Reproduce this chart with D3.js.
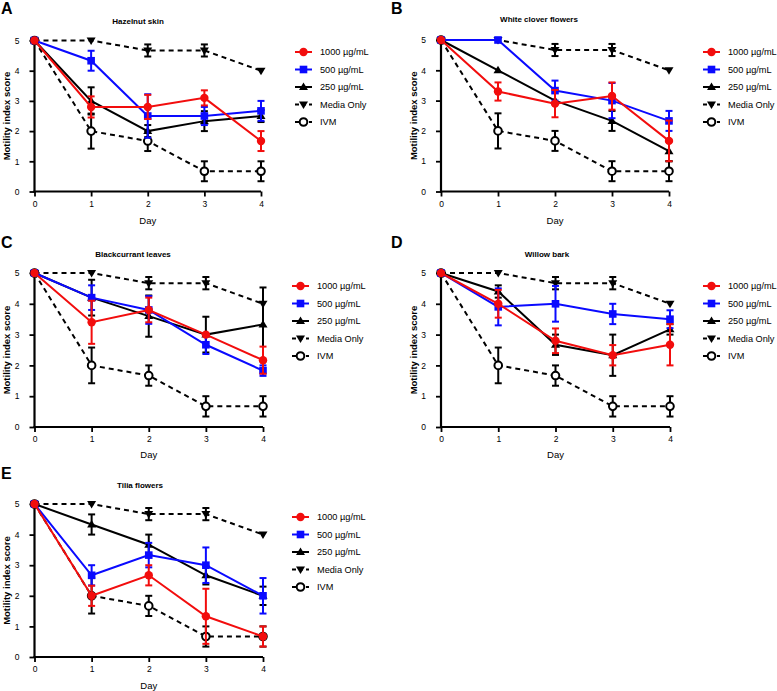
<!DOCTYPE html>
<html><head><meta charset="utf-8">
<script src="https://cdn.jsdelivr.net/npm/d3@7"></script>
<style>body{margin:0;background:#fff}svg{display:block}text{font-family:"Liberation Sans",Arial,sans-serif}</style>
</head><body>
<script>
const days = [0, 1, 2, 3, 4];
const yTicks = [0, 1, 2, 3, 4, 5];
const seriesNames = ["1000 µg/mL", "500 µg/mL", "250 µg/mL", "Media Only", "IVM"];
const panelLetters = ["A", "B", "C", "D", "E"];
const panelTitles = ["Hazelnut skin", "White clover flowers", "Blackcurrant leaves", "Willow bark", "Tilia flowers"];

// shared controls
const mediaMean = [5, 5, 4.67, 4.67, 4];
const mediaErr  = [0, 0, 0.2, 0.2, 0];
const ivmMean   = [5, 2, 1.67, 0.67, 0.67];
const ivmErr    = [0, 0.58, 0.33, 0.33, 0.33];

// A Hazelnut skin
const a1000 = [5, 2.8, 2.8, 3.1, 1.67],  a1000e = [0, 0.35, 0.4, 0.25, 0.33];
const a500  = [5, 4.33, 2.5, 2.5, 2.67], a500e  = [0, 0.33, 0.72, 0.3, 0.33];
const a250  = [5, 3, 2, 2.33, 2.5],      a250e  = [0, 0.45, 0.2, 0.33, 0.2];
// B White clover flowers
const b1000 = [5, 3.3, 2.9, 3.15, 1.67], b1000e = [0, 0.3, 0.45, 0.45, 0.67];
const b500  = [5, 5, 3.33, 3, 2.33],     b500e  = [0, 0, 0.33, 0.58, 0.33];
const b250  = [5, 4, 3, 2.33, 1.33],     b250e  = [0, 0, 0, 0.33, 0.33];
// C Blackcurrant leaves
const c1000 = [5, 3.4, 3.8, 3, 2.17],    c1000e = [0, 0.7, 0.4, 0, 0.44];
const c500  = [5, 4.2, 3.8, 2.67, 1.83], c500e  = [0, 0.4, 0.45, 0.3, 0.17];
const c250  = [5, 4.2, 3.6, 3, 3.33],    c250e  = [0, 0.58, 0.67, 0.58, 1.2];
// D Willow bark
const d1000 = [5, 4, 2.8, 2.33, 2.67],   d1000e = [0, 0.45, 0.4, 0.33, 0.67];
const d500  = [5, 3.9, 4, 3.67, 3.5],    d500e  = [0, 0.6, 0.58, 0.33, 0.29];
const d250  = [5, 4.4, 2.67, 2.33, 3.17],d250e  = [0, 0.2, 0.33, 0.67, 0.17];
// E Tilia flowers
const e1000 = [5, 2, 2.67, 1.33, 0.67],  e1000e = [0, 0.33, 0.33, 0.9, 0.33];
const e500  = [5, 2.67, 3.33, 3, 2],     e500e  = [0, 0.33, 0.4, 0.58, 0.58];
const e250  = [5, 4.33, 3.67, 2.67, 2],  e250e  = [0, 0.33, 0.33, 0.3, 0.3];

const panelData = [
  [[a1000,a1000e],[a500,a500e],[a250,a250e]],
  [[b1000,b1000e],[b500,b500e],[b250,b250e]],
  [[c1000,c1000e],[c500,c500e],[c250,c250e]],
  [[d1000,d1000e],[d500,d500e],[d250,d250e]],
  [[e1000,e1000e],[e500,e500e],[e250,e250e]]
];

// layout (positions only)
const layout = [
  {x0:34.5, x1:261, yT:40.5, yB:191.5, tx:138, ty:24, lx:1, ly:14, legX:295, legY:52, ylx:7,   dayY:224},
  {x0:441,  x1:669, yT:40,   yB:191.5, tx:539, ty:22, lx:391, ly:14, legX:703, legY:52, ylx:414, dayY:224},
  {x0:34.5, x1:263, yT:273,  yB:427,   tx:133, ty:257, lx:1, ly:248, legX:292, legY:286, ylx:7,  dayY:458},
  {x0:441,  x1:670, yT:273,  yB:427,   tx:547, ty:257, lx:391, ly:248, legX:703, legY:286, ylx:414, dayY:458},
  {x0:34.5, x1:263, yT:504,  yB:657,   tx:140, ty:488, lx:1, ly:479, legX:292, legY:517, ylx:7,  dayY:689}
];

const styles = [
  {color:"#f20d0d", dash:null, marker:"circle"},
  {color:"#0a0aff", dash:null, marker:"square"},
  {color:"#000", dash:null, marker:"triUp"},
  {color:"#000", dash:"5,4", marker:"triDown"},
  {color:"#000", dash:"5,4", marker:"openCircle"}
];

const svg = d3.select("body").append("svg").attr("width",777).attr("height",691);

function drawMarker(g, type, color, x, y){
  if(type==="circle") g.append("circle").attr("cx",x).attr("cy",y).attr("r",4.2).attr("fill",color);
  else if(type==="square") g.append("rect").attr("x",x-3.8).attr("y",y-3.8).attr("width",7.6).attr("height",7.6).attr("fill",color);
  else if(type==="triUp") g.append("path").attr("d",`M${x},${y-4.5}L${x+4.5},${y+3}L${x-4.5},${y+3}Z`).attr("fill",color);
  else if(type==="triDown") g.append("path").attr("d",`M${x},${y+4.5}L${x+4.5},${y-3}L${x-4.5},${y-3}Z`).attr("fill",color);
  else if(type==="openCircle") g.append("circle").attr("cx",x).attr("cy",y).attr("r",3.8).attr("fill","#fff").attr("stroke",color).attr("stroke-width",2);
}

panelData.forEach((pd, pi) => {
  const L = layout[pi];
  const x = d3.scaleLinear().domain([0,4]).range([L.x0, L.x1]);
  const y = d3.scaleLinear().domain([0,5]).range([L.yB, L.yT]);
  const g = svg.append("g");

  const series = [
    {mean:pd[0][0], err:pd[0][1]},
    {mean:pd[1][0], err:pd[1][1]},
    {mean:pd[2][0], err:pd[2][1]},
    {mean:mediaMean, err:mediaErr},
    {mean:ivmMean, err:ivmErr}
  ];

  const xAxis = d3.axisBottom(x).tickValues(days).tickSize(5).tickPadding(4).tickFormat(d3.format("d"));
  const yAxis = d3.axisLeft(y).tickValues(yTicks).tickSize(5).tickPadding(10).tickFormat(d3.format("d"));
  const gx = g.append("g").attr("transform",`translate(0,${L.yB})`).call(xAxis);
  const gy = g.append("g").attr("transform",`translate(${L.x0},0)`).call(yAxis);
  [gx, gy].forEach(a => {
    a.select(".domain").attr("stroke","#000").attr("stroke-width",2.2);
    a.selectAll(".tick line").attr("stroke","#000").attr("stroke-width",1.8);
    a.selectAll(".tick text").attr("font-size",8.5).attr("fill","#000").attr("font-family","Liberation Sans, Arial, sans-serif");
  });
  gx.select(".domain").attr("d",`M${L.x0-1},0H${L.x1}`);
  gy.select(".domain").attr("d",`M0,${L.yB+1}V${L.yT}`);

  [4,3,2,1,0].forEach(si => {
    const s = series[si], st = styles[si];
    const line = d3.line().x((d,i)=>x(days[i])).y(d=>y(d));
    const sg = g.append("g");
    sg.append("path").attr("d", line(s.mean)).attr("fill","none")
      .attr("stroke", st.color).attr("stroke-width", 2)
      .attr("stroke-dasharray", st.dash);
    s.mean.forEach((m,i) => {
      const e = s.err[i];
      if(e > 0){
        const cx = x(days[i]);
        sg.append("line").attr("x1",cx).attr("x2",cx).attr("y1",y(m-e)).attr("y2",y(m+e)).attr("stroke",st.color).attr("stroke-width",2);
        [m-e, m+e].forEach(v => sg.append("line").attr("x1",cx-3.5).attr("x2",cx+3.5).attr("y1",y(v)).attr("y2",y(v)).attr("stroke",st.color).attr("stroke-width",2));
      }
    });
    s.mean.forEach((m,i) => drawMarker(sg, st.marker, st.color, x(days[i]), y(m)));
  });

  g.append("text").attr("x",L.tx).attr("y",L.ty).attr("text-anchor","middle").attr("font-size",8).attr("font-weight","bold").text(panelTitles[pi]);
  g.append("text").attr("x",L.lx).attr("y",L.ly).attr("font-size",16).attr("font-weight","bold").text(panelLetters[pi]);
  g.append("text").attr("transform",`translate(${L.ylx},${(L.yT+L.yB)/2}) rotate(-90)`).attr("dy","0.35em").attr("text-anchor","middle").attr("font-size",9.5).attr("font-weight","bold").text("Motility index score");
  g.append("text").attr("x",(L.x0+L.x1)/2).attr("y",L.dayY).attr("text-anchor","middle").attr("font-size",9.5).text("Day");

  seriesNames.forEach((nm, si) => {
    const st = styles[si];
    const ly = L.legY + si*17.5;
    const lg = g.append("g");
    lg.append("line").attr("x1",L.legX).attr("x2",L.legX+17).attr("y1",ly).attr("y2",ly)
      .attr("stroke",st.color).attr("stroke-width",2).attr("stroke-dasharray", st.dash ? "4,3" : null);
    drawMarker(lg, st.marker, st.color, L.legX+8.5, ly);
    lg.append("text").attr("x",L.legX+25).attr("y",ly).attr("dy","0.35em").attr("font-size",9.2).text(nm);
  });
});
</script>
</body></html>
